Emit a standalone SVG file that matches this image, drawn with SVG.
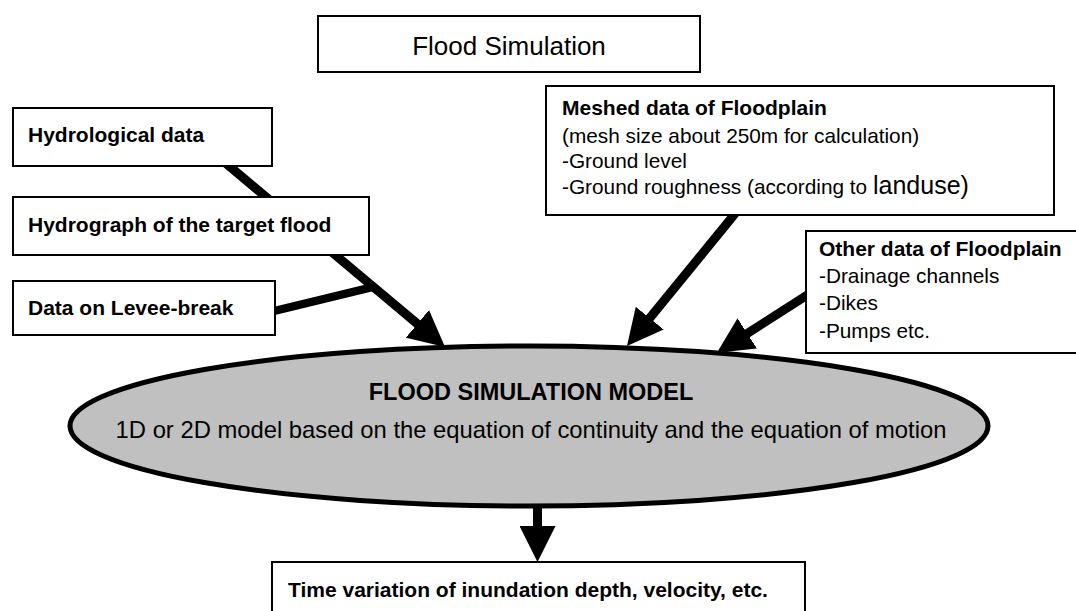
<svg xmlns="http://www.w3.org/2000/svg" width="1076" height="611" viewBox="0 0 1076 611">
<defs>
<style>
.box{fill:#fff;stroke:#000;stroke-width:2}
.b{font-family:"Liberation Sans",Arial,sans-serif;font-weight:bold;font-size:21px;fill:#000}
.r{font-family:"Liberation Sans",Arial,sans-serif;font-size:20.8px;fill:#000}
.conn{stroke:#000;stroke-width:9;fill:none}
</style>
<marker id="ah" markerUnits="userSpaceOnUse" markerWidth="36" markerHeight="36" viewBox="0 0 36 36" refX="1" refY="18" orient="auto">
<path d="M0,0 L36,18 L0,36 z" fill="#000"/>
</marker>
</defs>
<rect width="1076" height="611" fill="#fff"/>
<g id="model">
<ellipse cx="529" cy="426" rx="459" ry="80" fill="#c0c0c0" stroke="#000" stroke-width="5"/>
<text class="b" x="531" y="400" text-anchor="middle" style="font-size:23.5px">FLOOD SIMULATION MODEL</text>
<text class="r" x="531" y="438" text-anchor="middle" style="font-size:23.8px">1D or 2D model based on the equation of continuity and the equation of motion</text>
</g>
<g id="connectors">
<line class="conn" x1="222" y1="160" x2="418.2" y2="324.5" marker-end="url(#ah)"/>
<line class="conn" x1="270" y1="312" x2="373" y2="287" style="stroke-width:8"/>
<line class="conn" x1="738" y1="210" x2="649.1" y2="318.9" marker-end="url(#ah)"/>
<line class="conn" x1="812" y1="292" x2="746.4" y2="334" marker-end="url(#ah)"/>
<line class="conn" x1="537.5" y1="505" x2="537.5" y2="527" marker-end="url(#ah)"/>
</g>
<g id="title">
<rect class="box" x="318" y="16" width="382" height="56"/>
<text class="r" x="509" y="55" text-anchor="middle" style="font-size:26px">Flood Simulation</text>
</g>
<g id="hydrological">
<rect class="box" x="13" y="108" width="259" height="58"/>
<text class="b" x="28" y="142">Hydrological data</text>
</g>
<g id="hydrograph">
<rect class="box" x="13" y="197" width="356" height="58"/>
<text class="b" x="28" y="232">Hydrograph of the target flood</text>
</g>
<g id="levee">
<rect class="box" x="13" y="281" width="262" height="54"/>
<text class="b" x="28" y="315">Data on Levee-break</text>
</g>
<g id="meshed">
<rect class="box" x="546" y="86" width="508" height="129"/>
<text class="b" x="562" y="115">Meshed data of Floodplain</text>
<text class="r" x="562" y="143">(mesh size about 250m for calculation)</text>
<text class="r" x="562" y="168">-Ground level</text>
<text class="r" x="562" y="194">-Ground roughness (according to <tspan style="font-size:25px">landuse)</tspan></text>
</g>
<g id="other">
<rect class="box" x="806" y="231" width="280" height="122"/>
<text class="b" x="819" y="256">Other data of Floodplain</text>
<text class="r" x="819" y="283">-Drainage channels</text>
<text class="r" x="819" y="310">-Dikes</text>
<text class="r" x="819" y="338">-Pumps etc.</text>
</g>
<g id="result">
<rect class="box" x="272" y="562" width="533" height="60"/>
<text class="b" x="288" y="597">Time variation of inundation depth, velocity, etc.</text>
</g>
</svg>
